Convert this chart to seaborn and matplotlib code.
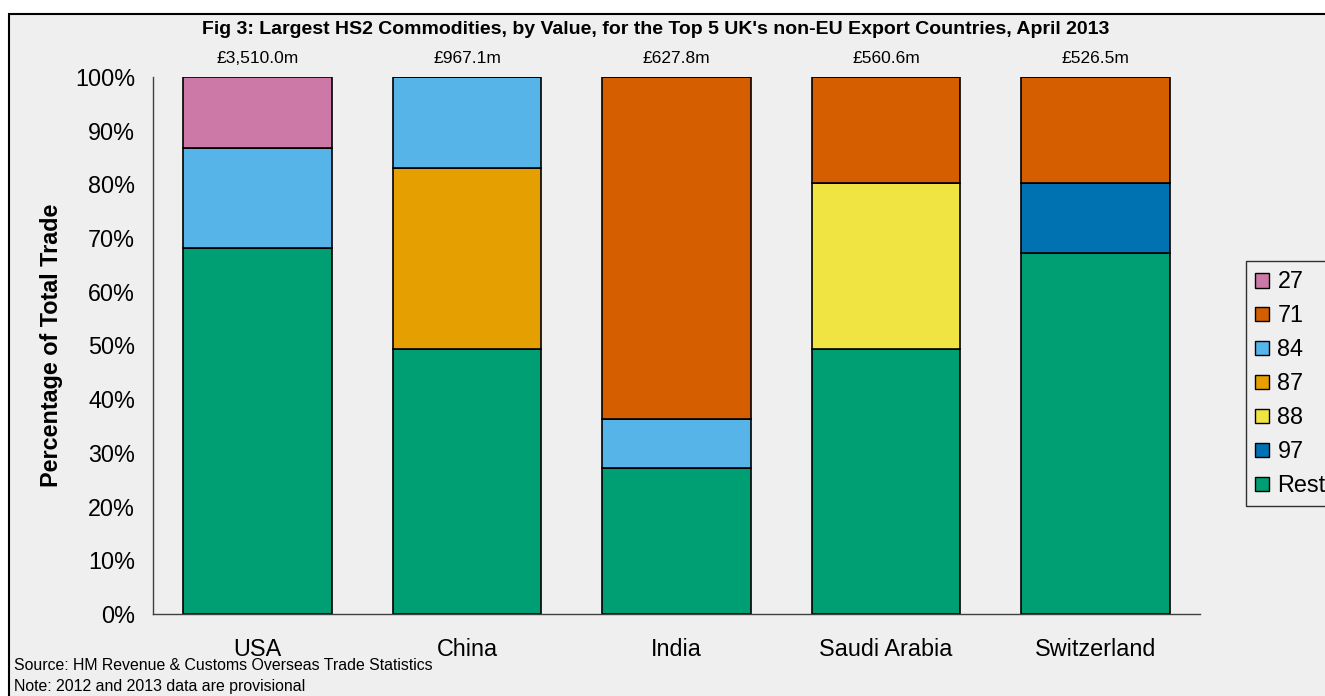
import matplotlib
matplotlib.use("Agg")
import matplotlib.pyplot as plt
from matplotlib.patches import Rectangle, Patch
from matplotlib.ticker import FixedLocator, PercentFormatter
import pandas as pd
import seaborn as sns

# Top 5 non-EU export destinations and their total export value (£m)
countries = ["USA", "China", "India", "Saudi Arabia", "Switzerland"]
totals_m = [3510.0, 967.1, 627.8, 560.6, 526.5]

# Share of each country's exports (%) by HS2 chapter
codes = ["27", "71", "84", "87", "88", "97", "Rest"]
share_27 = [13.2, 0.0, 0.0, 0.0, 0.0]
share_71 = [0.0, 0.0, 63.6, 19.7, 19.7]
share_84 = [18.6, 17.0, 9.3, 0.0, 0.0]
share_87 = [0.0, 33.7, 0.0, 0.0, 0.0]
share_88 = [0.0, 0.0, 0.0, 31.0, 0.0]
share_97 = [0.0, 0.0, 0.0, 0.0, 13.1]
share_rest = [68.2, 49.3, 27.1, 49.3, 67.2]

shares = {"27": share_27, "71": share_71, "84": share_84, "87": share_87,
          "88": share_88, "97": share_97, "Rest": share_rest}

rows = []
for code in codes:
    for i, country in enumerate(countries):
        v = shares[code][i]
        if v > 0:
            rows.append({"pos": i, "country": country, "code": code, "share": v})
df = pd.DataFrame(rows)

palette = {"27": "#CC79A7", "71": "#D55E00", "84": "#56B4E9", "87": "#E69F00",
           "88": "#F0E442", "97": "#0072B2", "Rest": "#009E73"}

sns.set_theme(style="white")
plt.rcParams["font.family"] = ["Liberation Sans", "DejaVu Sans"]
plt.rcParams["text.color"] = "black"
plt.rcParams["axes.labelcolor"] = "black"
plt.rcParams["xtick.color"] = "black"
plt.rcParams["ytick.color"] = "black"
bg = "#EFEFEF"

W, H = 1325, 696
fig = plt.figure(figsize=(W / 100, H / 100), dpi=100)
fig.patch.set_facecolor("white")

# Chart-area panel with a thin black frame
fig.add_artist(Rectangle((9 / W, -0.05), 1.1, (H - 14) / H + 0.05,
                         transform=fig.transFigure, facecolor=bg,
                         edgecolor="black", linewidth=1.5, zorder=-10))

ax = fig.add_axes([153 / W, 1 - 614 / H, (1200 - 153) / W, (614 - 77) / H])
ax.set_facecolor("none")

sns.histplot(data=df, x="pos", weights="share", hue="code", hue_order=codes,
             multiple="stack", discrete=True, shrink=0.71, palette=palette,
             edgecolor="black", linewidth=1.2, alpha=1, legend=False, ax=ax)

ax.set_xlim(-0.5, len(countries) - 0.5)
ax.set_ylim(0, 100)
ax.yaxis.set_major_locator(FixedLocator(range(0, 101, 10)))
ax.yaxis.set_major_formatter(PercentFormatter(decimals=0))
ax.set_xticks(range(len(countries)))
ax.set_xticklabels(countries)
ax.set_xticks([i - 0.5 for i in range(len(countries) + 1)], minor=True)
ax.tick_params(axis="x", which="major", length=0, pad=17, labelsize=16.8, labelcolor="black")
ax.tick_params(axis="x", which="minor", length=7, width=1, color="#404040", direction="out")
ax.tick_params(axis="y", length=7, width=1, color="#404040", direction="out",
               labelsize=16.8, pad=6, labelcolor="black")
ax.set_xlabel("")
ax.set_ylabel("")
fig.text(52 / W, 1 - 345 / H, "Percentage of Total Trade", rotation=90,
         ha="center", va="center", fontsize=16.8, fontweight="bold", color="black")
for side in ("top", "right"):
    ax.spines[side].set_visible(False)
for side in ("left", "bottom"):
    ax.spines[side].set_color("#404040")
    ax.spines[side].set_linewidth(1.0)

# Total export value above each bar
for i, v in enumerate(totals_m):
    ax.text(i, 103.5, f"£{v:,.1f}m", ha="center", va="center", fontsize=12.5,
            color="black", clip_on=False)

fig.text(656 / W, 1 - 30 / H,
         "Fig 3: Largest HS2 Commodities, by Value, for the Top 5 UK's non-EU Export Countries, April 2013",
         ha="center", va="center", fontsize=14, fontweight="bold", color="black")

handles = [Patch(facecolor=palette[c], edgecolor="black", linewidth=1.0) for c in codes]
leg = ax.legend(handles, codes, loc="upper left",
                bbox_to_anchor=(1246 / W, 1 - 261 / H), bbox_transform=fig.transFigure,
                frameon=True, fancybox=False, edgecolor="black", facecolor=bg,
                fontsize=16.8, handlelength=0.6, handleheight=0.6, handletextpad=0.35,
                labelspacing=0.47, borderpad=0.4, borderaxespad=0, labelcolor="black")
leg.get_frame().set_linewidth(1.0)

fig.text(14 / W, 1 - 666 / H, "Source: HM Revenue & Customs Overseas Trade Statistics",
         ha="left", va="center", fontsize=11.4, color="black")
fig.text(14 / W, 1 - 687 / H, "Note: 2012 and 2013 data are provisional",
         ha="left", va="center", fontsize=11.4, color="black")

fig.savefig("out.png", dpi=100, facecolor=fig.get_facecolor())
